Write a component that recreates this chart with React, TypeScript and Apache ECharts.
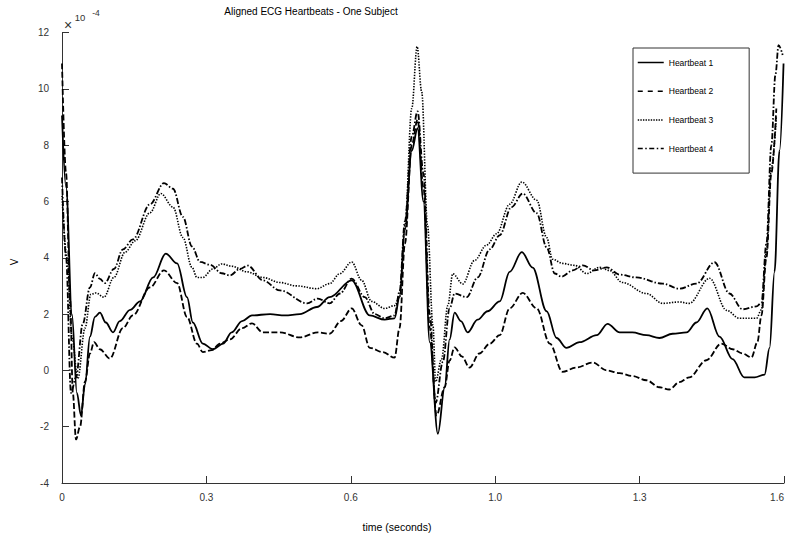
import React, { useEffect, useRef } from 'react';
import * as echarts from 'echarts';

const seriesNames = ['Heartbeat 1', 'Heartbeat 2', 'Heartbeat 3', 'Heartbeat 4'];
const titleText = 'Aligned ECG Heartbeats - One Subject';
const xAxisTitle = 'time (seconds)';
const yAxisTitle = 'V';
const xTickValues = [0, 0.32, 0.64, 0.96, 1.28, 1.6];
const yTickValues = [-4, -2, 0, 2, 4, 6, 8, 10, 12];

// Heartbeat 1 (solid)
const hb1: [number, number][] = [
  [0, 9.05], [0.009, 6.5], [0.022, 2.0], [0.033, -0.8], [0.042, -1.6], [0.051, -0.5], [0.062, 1.2],
  [0.073, 1.9], [0.084, 2.05], [0.097, 1.7], [0.113, 1.35], [0.128, 1.75], [0.151, 2.15], [0.173, 2.45],
  [0.202, 3.3], [0.23, 4.15], [0.255, 3.8], [0.277, 2.6], [0.29, 1.7], [0.312, 0.95], [0.334, 0.75],
  [0.357, 0.95], [0.376, 1.35], [0.399, 1.75], [0.421, 1.95], [0.461, 2.0], [0.494, 1.95], [0.527, 2.0],
  [0.565, 2.25], [0.593, 2.6], [0.642, 3.2], [0.682, 1.95], [0.715, 1.8], [0.737, 1.85], [0.748, 2.6],
  [0.76, 5.0], [0.775, 7.8], [0.788, 8.6], [0.801, 6.0], [0.815, 1.0], [0.833, -2.25], [0.848, -0.6],
  [0.859, 1.1], [0.87, 2.05], [0.884, 1.75], [0.899, 1.35], [0.921, 1.8], [0.943, 2.1], [0.97, 2.45],
  [0.992, 3.5], [1.019, 4.2], [1.043, 3.65], [1.074, 2.1], [1.096, 1.15], [1.118, 0.8], [1.147, 1.0],
  [1.185, 1.25], [1.209, 1.65], [1.236, 1.35], [1.264, 1.35], [1.295, 1.25], [1.324, 1.15], [1.353, 1.3],
  [1.384, 1.35], [1.406, 1.7], [1.43, 2.2], [1.457, 1.2], [1.486, 0.4], [1.512, -0.25], [1.535, -0.25],
  [1.557, -0.15], [1.568, 0.8], [1.579, 3.5], [1.59, 7.8], [1.599, 10.9],
];

// Heartbeat 2 (dashed)
const hb2: [number, number][] = [
  [0, 10.9], [0.009, 7.0], [0.018, 2.5], [0.024, -0.8], [0.031, -2.45], [0.04, -2.0], [0.051, -0.4],
  [0.062, 0.6], [0.071, 1.0], [0.084, 0.75], [0.106, 0.42], [0.135, 1.5], [0.157, 1.95], [0.195, 2.95],
  [0.226, 3.55], [0.255, 3.1], [0.277, 1.9], [0.299, 0.95], [0.312, 0.65], [0.332, 0.72], [0.35, 0.95],
  [0.372, 1.1], [0.399, 1.5], [0.421, 1.67], [0.445, 1.35], [0.483, 1.35], [0.527, 1.17], [0.567, 1.35],
  [0.593, 1.3], [0.618, 1.75], [0.642, 2.2], [0.664, 1.6], [0.682, 0.8], [0.711, 0.65], [0.737, 0.45],
  [0.748, 1.5], [0.76, 4.5], [0.775, 8.0], [0.788, 8.9], [0.801, 6.5], [0.815, 1.5], [0.83, -1.6],
  [0.848, -0.6], [0.859, 0.35], [0.87, 0.82], [0.886, 0.5], [0.903, 0.1], [0.925, 0.6], [0.948, 0.95],
  [0.97, 1.25], [0.992, 2.2], [1.021, 2.75], [1.052, 2.2], [1.081, 0.95], [1.109, -0.05], [1.14, 0.1],
  [1.176, 0.28], [1.207, 0.0], [1.236, -0.1], [1.264, -0.2], [1.295, -0.35], [1.324, -0.6], [1.346, -0.68],
  [1.368, -0.42], [1.39, -0.25], [1.428, 0.36], [1.461, 0.95], [1.486, 0.75], [1.508, 0.6], [1.528, 0.46],
  [1.541, 1.0], [1.55, 1.95], [1.561, 4.0], [1.572, 7.0], [1.583, 9.3],
];

// Heartbeat 3 (dotted)
const hb3: [number, number][] = [
  [0, 6.2], [0.011, 4.0], [0.022, 1.2], [0.035, -0.3], [0.051, 1.5], [0.064, 2.7], [0.075, 2.75],
  [0.093, 2.6], [0.115, 3.3], [0.14, 4.2], [0.162, 4.6], [0.195, 5.6], [0.219, 6.28], [0.246, 5.8],
  [0.268, 4.72], [0.288, 3.66], [0.299, 3.3], [0.312, 3.3], [0.334, 3.6], [0.354, 3.78], [0.376, 3.7],
  [0.41, 3.5], [0.445, 3.3], [0.483, 3.12], [0.52, 3.0], [0.565, 2.9], [0.593, 3.08], [0.616, 3.44],
  [0.642, 3.85], [0.664, 3.2], [0.686, 2.45], [0.715, 2.2], [0.737, 2.3], [0.748, 2.6], [0.76, 5.15],
  [0.775, 9.3], [0.787, 11.5], [0.797, 9.9], [0.81, 5.15], [0.822, 1.6], [0.828, -0.4], [0.841, 0.4],
  [0.855, 2.3], [0.866, 3.43], [0.888, 3.07], [0.914, 3.9], [0.941, 4.45], [0.963, 4.85], [0.992, 5.9],
  [1.019, 6.69], [1.052, 6.04], [1.074, 4.72], [1.087, 3.95], [1.109, 3.8], [1.136, 3.73], [1.163, 3.44],
  [1.191, 3.66], [1.213, 3.55], [1.242, 3.12], [1.295, 2.73], [1.331, 2.38], [1.368, 2.43], [1.39, 2.38],
  [1.435, 3.27], [1.473, 2.13], [1.501, 1.85], [1.539, 1.85], [1.55, 2.15], [1.561, 4.2], [1.572, 7.2],
  [1.583, 9.0],
];

// Heartbeat 4 (dash-dot)
const hb4: [number, number][] = [
  [0, 6.85], [0.009, 4.0], [0.02, -0.8], [0.031, -0.25], [0.046, 1.65], [0.062, 2.95], [0.073, 3.45],
  [0.084, 3.25], [0.095, 3.1], [0.115, 3.6], [0.135, 4.3], [0.157, 4.65], [0.195, 5.9], [0.226, 6.65],
  [0.246, 6.45], [0.268, 5.45], [0.288, 4.4], [0.306, 3.85], [0.328, 3.75], [0.354, 3.45], [0.372, 3.37],
  [0.394, 3.6], [0.412, 3.72], [0.445, 3.2], [0.483, 2.84], [0.543, 2.38], [0.567, 2.55], [0.593, 2.38],
  [0.616, 2.73], [0.642, 3.26], [0.671, 2.6], [0.693, 2.0], [0.715, 1.85], [0.737, 1.95], [0.748, 2.8],
  [0.76, 5.3], [0.775, 8.3], [0.788, 9.2], [0.801, 7.0], [0.815, 2.0], [0.828, -1.15], [0.844, 0.3],
  [0.859, 2.2], [0.87, 2.73], [0.897, 2.6], [0.921, 3.3], [0.948, 4.3], [0.97, 4.8], [0.996, 5.8],
  [1.021, 6.28], [1.052, 5.58], [1.074, 4.37], [1.092, 3.44], [1.107, 3.33], [1.132, 3.55], [1.154, 3.73],
  [1.18, 3.55], [1.207, 3.66], [1.236, 3.4], [1.273, 3.3], [1.331, 3.08], [1.368, 2.9], [1.406, 3.08],
  [1.446, 3.84], [1.479, 2.73], [1.508, 2.17], [1.539, 2.27], [1.55, 2.4], [1.561, 4.5], [1.572, 8.0],
  [1.581, 10.5], [1.588, 11.55], [1.597, 11.2],
];

const seriesData = [hb1, hb2, hb3, hb4];
const lineTypes: any[] = ['solid', [6, 2.5], [1.4, 1.4], [6, 2, 1.5, 2]];
const legendTypes: any[] = ['solid', [5, 5], [1.4, 1.2], [5, 2.5, 1.5, 2.5]];

const FONT = 'Liberation Sans, Arial, Helvetica, sans-serif';

export default function App() {
  const ref = useRef<HTMLDivElement>(null);

  useEffect(() => {
    document.body.style.margin = '0';
    if (!ref.current) return;
    const chart = echarts.init(ref.current, undefined, { renderer: 'svg' });
    const axisColor = '#333';
    const option: any = {
      animation: false,
      backgroundColor: '#fff',
      grid: { left: 62, right: 1, top: 32.5, bottom: 57, containLabel: false, outerBoundsMode: 'none' },
      xAxis: {
        type: 'value',
        min: xTickValues[0],
        max: xTickValues[xTickValues.length - 1],
        interval: xTickValues[1] - xTickValues[0],
        axisLine: { show: true, onZero: false, lineStyle: { color: axisColor, width: 1 } },
        axisTick: { show: true, inside: true, length: 7, lineStyle: { color: axisColor } },
        axisLabel: {
          show: true,
          showMaxLabel: true,
          hideOverlap: false,
          alignMaxLabel: 'right',
          margin: 9,
          fontSize: 10,
          color: '#333',
          fontFamily: FONT,
          formatter: (v: number) => (v === 0 ? '0' : v.toFixed(1)),
        },
        splitLine: { show: false },
      },
      yAxis: {
        type: 'value',
        min: yTickValues[0],
        max: yTickValues[yTickValues.length - 1],
        interval: yTickValues[1] - yTickValues[0],
        axisLine: { show: true, onZero: false, lineStyle: { color: axisColor, width: 1 } },
        axisTick: { show: true, inside: true, length: 7, lineStyle: { color: axisColor } },
        axisLabel: {
          show: true,
          margin: 13,
          fontSize: 10,
          color: '#333',
          fontFamily: FONT,
          padding: [0, 0, 8, 0],
        },
        splitLine: { show: false },
      },
      legend: {
        orient: 'vertical',
        left: 633,
        top: 48,
        padding: [10, 36, 20, 4],
        itemWidth: 26,
        itemHeight: 10,
        itemGap: 19.7,
        borderColor: '#333',
        borderWidth: 1,
        backgroundColor: '#fff',
        textStyle: { fontSize: 8.5, color: '#000', fontFamily: FONT },
        itemStyle: { color: 'rgba(0,0,0,0)', borderColor: 'rgba(0,0,0,0)', borderWidth: 0, opacity: 0 },
        data: seriesNames.map((n, i) => ({
          name: n,
          lineStyle: { type: legendTypes[i], width: 1.5, color: '#000' },
        })),
      },
      graphic: [
        {
          type: 'text',
          x: 311,
          y: 11,
          style: { text: titleText, fontSize: 10, fontFamily: FONT, fill: '#000', align: 'center', verticalAlign: 'middle' },
        },
        {
          type: 'text',
          x: 397,
          y: 527,
          style: { text: xAxisTitle, fontSize: 10.5, fontFamily: FONT, fill: '#000', align: 'center', verticalAlign: 'middle' },
        },
        {
          type: 'text',
          x: 14,
          y: 262,
          rotation: Math.PI / 2,
          style: { text: yAxisTitle, fontSize: 10, fontFamily: FONT, fill: '#000', align: 'center', verticalAlign: 'middle' },
        },
        {
          type: 'text',
          x: 68,
          y: 24.5,
          style: { text: '×', fontSize: 14, fontFamily: FONT, fill: '#333', align: 'center', verticalAlign: 'middle' },
        },
        {
          type: 'text',
          x: 80,
          y: 17.5,
          style: { text: '10', fontSize: 9.5, fontFamily: FONT, fill: '#333', align: 'center', verticalAlign: 'middle' },
        },
        {
          type: 'text',
          x: 96,
          y: 12.5,
          style: { text: '-4', fontSize: 8.5, fontFamily: FONT, fill: '#333', align: 'center', verticalAlign: 'middle' },
        },
      ],
      series: seriesData.map((d, i) => ({
        name: seriesNames[i],
        type: 'line',
        data: d,
        smooth: 0.35,
        smoothMonotone: 'x',
        symbol: 'none',
        showSymbol: false,
        clip: true,
        lineStyle: { color: '#000', width: i === 2 ? 1.6 : 1.8, type: lineTypes[i] },
        itemStyle: { color: '#000' },
        z: 2 + i,
      })),
    };
    chart.setOption(option);
    return () => chart.dispose();
  }, []);

  return <div ref={ref} style={{ width: 785, height: 540 }} />;
}
